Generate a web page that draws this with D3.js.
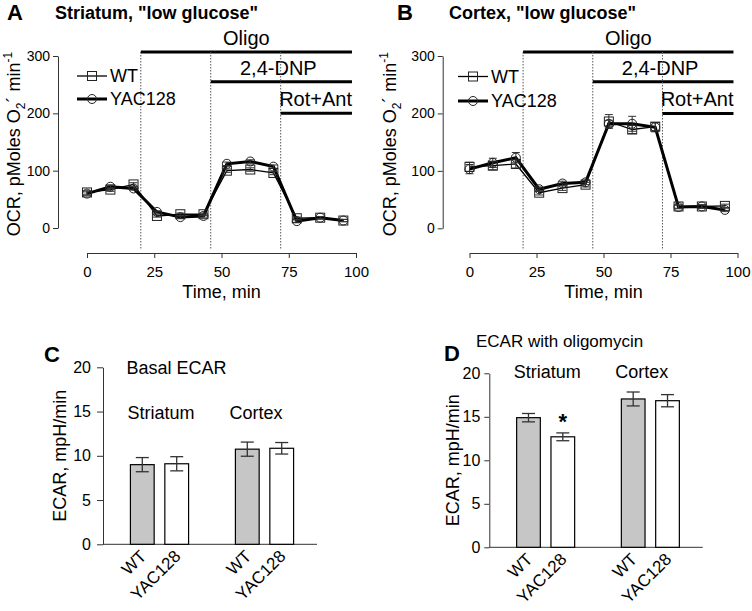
<!DOCTYPE html>
<html><head><meta charset="utf-8">
<script src="https://cdn.jsdelivr.net/npm/d3@7"></script>
<style>body{margin:0;background:#fff;} svg{font-family:"Liberation Sans",Arial,sans-serif;}</style>
</head><body><svg id="c" width="752" height="611"></svg>
<script>
// ---------- data ----------
const times = [0, 8.7, 17.3, 26, 34.7, 43.3, 52, 60.7, 69.3, 78, 86.7, 95.3];
const strWT     = [62, 67, 76, 21, 24, 24, 100, 102, 96, 17, 18, 13];
const strWTerr  = [3, 3, 3, 2, 2, 2, 3, 3, 3, 2, 2, 2];
const strYAC    = [60, 72, 69, 28, 19, 21, 112, 116, 107, 12, 18, 13];
const strYACerr = [3, 3, 3, 2, 2, 2, 3, 3, 3, 2, 2, 2];
const ctxWT     = [107, 109, 112, 62, 70, 76, 186, 172, 177, 38, 38, 39];
const ctxWTerr  = [8, 7, 7, 4, 4, 4, 12, 7, 7, 3, 3, 3];
const ctxYAC    = [103, 114, 123, 68, 78, 80, 182, 182, 176, 37, 38, 32];
const ctxYACerr = [8, 8, 9, 4, 4, 4, 6, 13, 8, 3, 3, 3];
const treatNames = ["Oligo", "2,4-DNP", "Rot+Ant"];
const treatStart = [20, 46, 72];
const treatLevel = [307, 255, 200];
const treatEnd = 98.5;
const ocrTicks = [0, 100, 200, 300];
const timeTicks = [0, 25, 50, 75, 100];
const groups = ["Striatum", "Cortex"];
const genotypes = ["WT", "YAC128"];
const basalMean = [[9.0, 9.1], [10.75, 10.85]];
const basalErr  = [[0.8, 0.8], [0.8, 0.65]];
const oligoMean = [[14.9, 12.7], [17.05, 16.85]];
const oligoErr  = [[0.48, 0.45], [0.8, 0.7]];
const ecarTicks = [0, 5, 10, 15, 20];

const svg = d3.select("#c");
const AX = "#333";

function styleAxis(g, fs) {
  g.selectAll("path,line").attr("stroke", AX).attr("stroke-width", 1);
  g.selectAll("text").attr("fill", "#000").attr("font-size", fs).attr("font-family", "Liberation Sans, Arial, sans-serif");
}

function ocrPanel(o) {
  const g = svg.append("g");
  const x = d3.scaleLinear().domain([0, 100]).range(o.xr);
  const y = d3.scaleLinear().domain([0, 300]).range(o.yr);
  g.append("text").attr("x", o.letterX).attr("y", 20).attr("font-size", 22).attr("font-weight", "bold").text(o.letter);
  g.append("text").attr("x", o.titleX).attr("y", 19).attr("font-size", 18).attr("font-weight", "bold").text(o.title);
  const ya = g.append("g").attr("transform", `translate(${o.yAxisX},0)`)
    .call(d3.axisLeft(y).tickValues(ocrTicks).tickSize(5).tickSizeOuter(0).tickPadding(3));
  styleAxis(ya, 14);
  const xa = g.append("g").attr("transform", `translate(0,${o.xAxisY})`)
    .call(d3.axisBottom(x).tickValues(timeTicks).tickSize(5).tickSizeOuter(0).tickPadding(8));
  styleAxis(xa, 15);
  g.append("text").attr("x", (o.xr[0] + o.xr[1]) / 2).attr("y", 298).attr("text-anchor", "middle")
    .attr("font-size", 18).text("Time, min");
  const yl = g.append("text").attr("transform", `translate(${o.yLabelX},${(y(0) + y(300)) / 2 + 2}) rotate(-90)`)
    .attr("text-anchor", "middle").attr("font-size", 18);
  yl.append("tspan").text("OCR, pMoles O");
  yl.append("tspan").attr("font-size", 12).attr("dy", 5).text("2");
  yl.append("tspan").attr("dy", -5).text("\u00b4 min");
  yl.append("tspan").attr("font-size", 12).attr("dy", -8).text("-1");
  treatStart.forEach((s, i) => {
    g.append("line").attr("x1", x(s)).attr("x2", x(s)).attr("y1", y(treatLevel[0])).attr("y2", o.xAxisY - 3)
      .attr("stroke", "#555").attr("stroke-width", 1).attr("stroke-dasharray", "1.5,1.5");
    g.append("line").attr("x1", x(s)).attr("x2", x(treatEnd)).attr("y1", y(treatLevel[i])).attr("y2", y(treatLevel[i]))
      .attr("stroke", "#000").attr("stroke-width", 3);
    const t = g.append("text").attr("y", y(treatLevel[i]) - 7).attr("font-size", 20).text(treatNames[i]);
    if (i === 2) t.attr("x", x(treatEnd)).attr("text-anchor", "end");
    else t.attr("x", (x(s) + x(treatEnd)) / 2 + (i === 1 ? -3 : 0)).attr("text-anchor", "middle");
  });
  const series = [
    {v: o.wt, e: o.wtErr, w: 1.3, shape: "sq"},
    {v: o.yac, e: o.yacErr, w: 3, shape: "ci"}
  ];
  const line = d3.line().x((d, i) => x(times[i])).y(d => y(d));
  series.forEach(s => {
    g.append("path").datum(s.v).attr("d", line).attr("fill", "none").attr("stroke", "#000").attr("stroke-width", s.w);
  });
  series.forEach(s => {
    const eg = g.append("g").attr("stroke", "#333").attr("stroke-width", 1);
    s.v.forEach((d, i) => {
      const cx = x(times[i]);
      eg.append("line").attr("x1", cx).attr("x2", cx).attr("y1", y(d - s.e[i])).attr("y2", y(d + s.e[i]));
      eg.append("line").attr("x1", cx - 4).attr("x2", cx + 4).attr("y1", y(d + s.e[i])).attr("y2", y(d + s.e[i]));
      eg.append("line").attr("x1", cx - 4).attr("x2", cx + 4).attr("y1", y(d - s.e[i])).attr("y2", y(d - s.e[i]));
    });
  });
  series.forEach(s => {
    s.v.forEach((d, i) => {
      const cx = x(times[i]), cy = y(d);
      if (s.shape === "sq") g.append("rect").attr("x", cx - 4.5).attr("y", cy - 4.5).attr("width", 9).attr("height", 9)
        .attr("fill", "none").attr("stroke", "#222").attr("stroke-width", 1);
      else g.append("circle").attr("cx", cx).attr("cy", cy).attr("r", 4.5)
        .attr("fill", "none").attr("stroke", "#222").attr("stroke-width", 1);
    });
  });
  const lx = o.legX;
  [[o.legY[0], 1.3, "sq", "WT"], [o.legY[1], 3, "ci", "YAC128"]].forEach(([ly, w, sh, name]) => {
    g.append("line").attr("x1", lx).attr("x2", lx + 30).attr("y1", ly).attr("y2", ly).attr("stroke", "#000").attr("stroke-width", w);
    if (sh === "sq") g.append("rect").attr("x", lx + 10.5).attr("y", ly - 4.5).attr("width", 9).attr("height", 9)
      .attr("fill", "none").attr("stroke", "#222");
    else g.append("circle").attr("cx", lx + 15).attr("cy", ly).attr("r", 4.5).attr("fill", "none").attr("stroke", "#222");
    g.append("text").attr("x", lx + 33).attr("y", ly + 6).attr("font-size", 18).text(name);
  });
}

ocrPanel({letter: "A", letterX: 7, title: "Striatum, \"low glucose\"", titleX: 55,
  xr: [87, 356], yr: [228, 56], yAxisX: 58, xAxisY: 253, yLabelX: 20,
  wt: strWT, wtErr: strWTerr, yac: strYAC, yacErr: strYACerr, legX: 77, legY: [76, 99]});
ocrPanel({letter: "B", letterX: 397, title: "Cortex, \"low glucose\"", titleX: 449,
  xr: [469.5, 737.5], yr: [228.3, 56], yAxisX: 442.7, xAxisY: 253, yLabelX: 396,
  wt: ctxWT, wtErr: ctxWTerr, yac: ctxYAC, yacErr: ctxYACerr, legX: 458, legY: [76.5, 101]});

function ecarPanel(o) {
  const g = svg.append("g");
  const y = d3.scaleLinear().domain([0, 20]).range(o.yr);
  const xg = d3.scaleBand().domain(groups).range([o.xr[0] + 4, o.xr[1]]).paddingInner(0.4).paddingOuter(0.2);
  const xi = d3.scaleBand().domain(genotypes).range([0, xg.bandwidth()]).paddingInner(0.31).paddingOuter(0.07);
  g.append("text").attr("x", o.letterX).attr("y", o.letterY).attr("font-size", 22).attr("font-weight", "bold").text(o.letter);
  const ya = g.append("g").attr("transform", `translate(${o.xr[0]},0)`)
    .call(d3.axisLeft(y).tickValues(ecarTicks).tickSize(o.tick).tickSizeOuter(0).tickPadding(o.pad));
  styleAxis(ya, 16);
  g.append("line").attr("x1", o.xr[0]).attr("x2", o.xr[1]).attr("y1", y(0)).attr("y2", y(0)).attr("stroke", AX);
  g.append("text").attr("transform", `translate(${o.yLabelX},${(y(0) + y(20)) / 2}) rotate(-90)`)
    .attr("text-anchor", "middle").attr("font-size", 18).text("ECAR, mpH/min");
  groups.forEach((gr, gi) => {
    genotypes.forEach((gt, ti) => {
      const bx = xg(gr) + xi(gt), bw = xi.bandwidth(), cx = bx + bw / 2;
      const v = o.mean[gi][ti], e = o.err[gi][ti];
      g.append("rect").attr("x", bx).attr("y", y(v)).attr("width", bw).attr("height", y(0) - y(v))
        .attr("fill", ti === 0 ? "#c6c6c6" : "#fff").attr("stroke", "#000").attr("stroke-width", 1.2);
      const eg = g.append("g").attr("stroke", "#333").attr("stroke-width", 1.3);
      eg.append("line").attr("x1", cx).attr("x2", cx).attr("y1", y(v - e)).attr("y2", y(v + e));
      eg.append("line").attr("x1", cx - 6.5).attr("x2", cx + 6.5).attr("y1", y(v + e)).attr("y2", y(v + e));
      eg.append("line").attr("x1", cx - 6.5).attr("x2", cx + 6.5).attr("y1", y(v - e)).attr("y2", y(v - e));
      g.append("text").attr("transform", `translate(${cx + 5},${y(0) + 13}) rotate(-45)`)
        .attr("text-anchor", "end").attr("font-size", 17).text(gt);
      if (o.star && gi === 0 && ti === 1)
        g.append("text").attr("x", cx).attr("y", y(v + e) - 4).attr("text-anchor", "middle")
          .attr("font-size", 22).attr("font-weight", "bold").text("*");
    });
    g.append("text").attr("x", xg(gr) + xi("WT") - 3 + (gi === 1 ? -3 : 0)).attr("y", o.groupY)
      .attr("font-size", 18).text(gr);
  });
  g.append("text").attr("x", o.titleX).attr("y", o.titleY).attr("font-size", o.titleFs).text(o.title);
}

ecarPanel({letter: "C", letterX: 44, letterY: 362, xr: [103, 317], yr: [544.3, 367.3], tick: 6, pad: 6,
  yLabelX: 66, mean: basalMean, err: basalErr, groupY: 419, title: "Basal ECAR", titleX: 126.5, titleY: 374, titleFs: 18, star: false});
ecarPanel({letter: "D", letterX: 444, letterY: 361, xr: [489.3, 702.7], yr: [547.3, 373.3], tick: 5, pad: 4,
  yLabelX: 459, mean: oligoMean, err: oligoErr, groupY: 378, title: "ECAR with oligomycin", titleX: 476, titleY: 347, titleFs: 17, star: true});
</script></body></html>
